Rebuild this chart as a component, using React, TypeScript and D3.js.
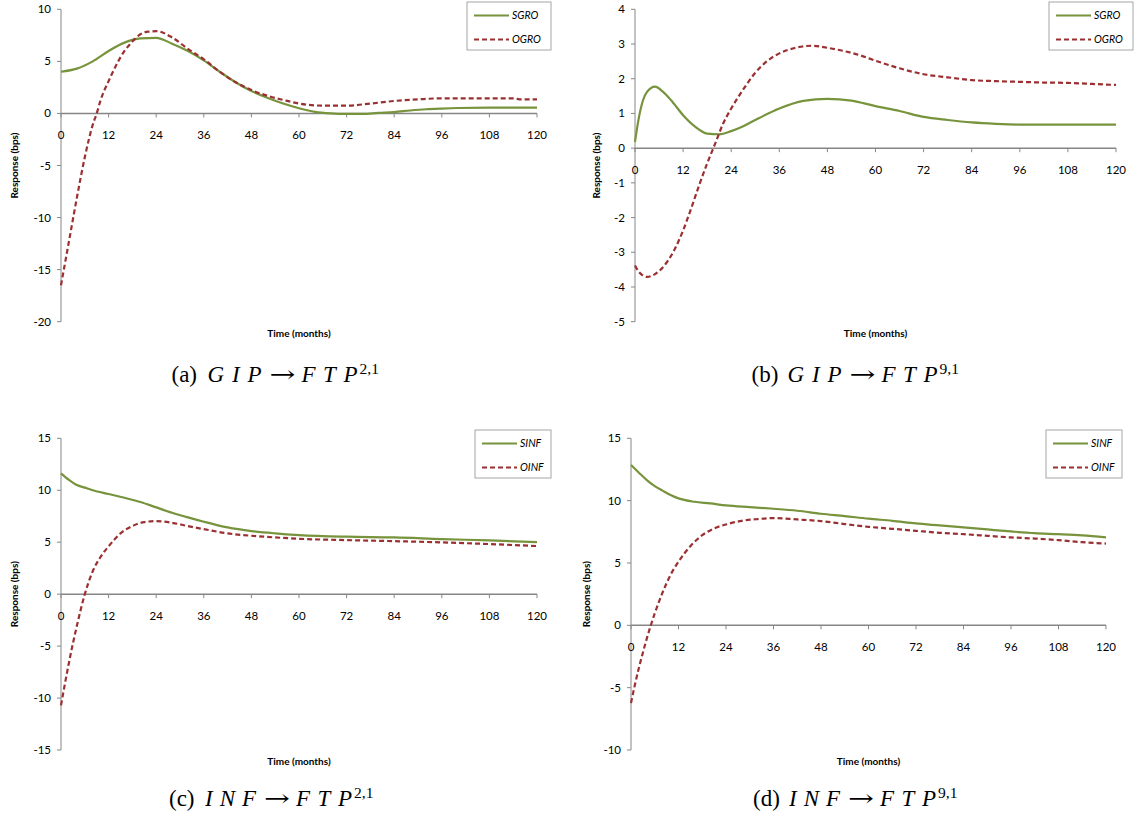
import React from "react";
import * as d3 from "d3";

// ---------- DATA ----------
const xTicks = [0, 12, 24, 36, 48, 60, 72, 84, 96, 108, 120];

// Panel (a) GIP -> FTP^{2,1}
const aSGROMonths = [0, 4, 8, 12, 16, 20, 24, 28, 32, 36, 40, 44, 48, 52, 56, 60, 64, 68, 72, 76, 80, 84, 88, 92, 96, 100, 108, 120];
const aSGRO = [4.0, 4.3, 5.0, 6.0, 6.8, 7.2, 7.25, 6.7, 6.0, 5.1, 4.0, 3.0, 2.15, 1.5, 0.95, 0.5, 0.15, 0.0, -0.05, -0.05, 0.05, 0.13, 0.28, 0.4, 0.47, 0.52, 0.55, 0.55];
const aOGROMonths = [0, 2, 4, 6, 8, 9, 10, 12, 14, 16, 18, 20, 22, 24, 28, 32, 36, 40, 44, 48, 52, 56, 60, 66, 72, 78, 84, 90, 96, 108, 114, 116, 120];
const aOGRO = [-16.5, -12.3, -8.1, -4.2, -1.1, 0, 1.3, 3.1, 4.7, 6.0, 6.9, 7.6, 7.85, 7.9, 7.3, 6.2, 5.2, 4.0, 3.0, 2.25, 1.7, 1.3, 0.95, 0.75, 0.75, 0.95, 1.2, 1.35, 1.45, 1.45, 1.45, 1.35, 1.35];

// Panel (b) GIP -> FTP^{9,1}
const bSGROMonths = [0, 1, 2, 3, 5, 7, 9, 12, 15, 18, 21, 24, 27, 30, 36, 42, 48, 54, 60, 66, 72, 78, 84, 90, 96, 120];
const bSGRO = [0.18, 0.9, 1.38, 1.62, 1.77, 1.62, 1.38, 0.95, 0.62, 0.42, 0.4, 0.49, 0.63, 0.81, 1.14, 1.36, 1.42, 1.37, 1.21, 1.07, 0.9, 0.81, 0.74, 0.7, 0.68, 0.68];
const bOGROMonths = [0, 1, 3, 5, 8, 10, 12, 14, 16, 18, 20, 22, 24, 27, 30, 33, 36, 40, 44, 48, 52, 56, 60, 66, 72, 78, 84, 90, 96, 102, 108, 114, 120];
const bOGRO = [-3.38, -3.57, -3.71, -3.63, -3.28, -2.89, -2.37, -1.74, -1.07, -0.44, 0.13, 0.71, 1.14, 1.69, 2.17, 2.51, 2.73, 2.89, 2.95, 2.89, 2.8, 2.68, 2.52, 2.3, 2.13, 2.04, 1.96, 1.93, 1.91, 1.89, 1.88, 1.85, 1.82];

// Panel (c) INF -> FTP^{2,1}
const cSINFMonths = [0, 2, 4, 6, 8, 12, 16, 20, 24, 28, 32, 36, 42, 48, 54, 60, 72, 84, 96, 108, 120];
const cSINF = [11.63, 11.0, 10.5, 10.25, 10.0, 9.64, 9.28, 8.87, 8.35, 7.84, 7.39, 6.97, 6.42, 6.07, 5.85, 5.69, 5.53, 5.46, 5.3, 5.17, 5.01];
const cOINFMonths = [0, 1, 2, 3, 4, 5, 6, 7, 8, 10, 12, 15, 18, 21, 24, 28, 32, 36, 42, 48, 54, 60, 72, 84, 96, 108, 120];
const cOINF = [-10.7, -8.6, -6.6, -4.75, -3.05, -1.45, 0, 1.2, 2.2, 3.6, 4.6, 5.85, 6.55, 6.94, 7.03, 6.87, 6.55, 6.26, 5.85, 5.62, 5.46, 5.33, 5.2, 5.1, 4.98, 4.82, 4.63];

// Panel (d) INF -> FTP^{9,1}
const dSINFMonths = [0, 2, 4, 6, 8, 10, 12, 16, 20, 24, 30, 36, 42, 48, 54, 60, 66, 72, 78, 84, 90, 96, 102, 108, 114, 120];
const dSINF = [12.86, 12.24, 11.65, 11.17, 10.8, 10.45, 10.18, 9.91, 9.78, 9.62, 9.48, 9.35, 9.19, 8.95, 8.76, 8.55, 8.38, 8.17, 8.01, 7.85, 7.69, 7.53, 7.39, 7.31, 7.21, 7.05];
const dOINFMonths = [0, 1, 2, 3, 4, 5, 6, 8, 10, 12, 15, 18, 21, 24, 28, 32, 36, 42, 48, 54, 60, 66, 72, 78, 84, 90, 96, 102, 108, 114, 120];
const dOINF = [-6.24, -4.75, -3.4, -2.2, -1.05, 0, 0.95, 2.65, 4.05, 5.1, 6.35, 7.23, 7.77, 8.09, 8.38, 8.52, 8.6, 8.49, 8.36, 8.12, 7.9, 7.74, 7.58, 7.42, 7.31, 7.18, 7.05, 6.96, 6.83, 6.67, 6.56];

const aYTicks = [10, 5, 0, -5, -10, -15, -20];
const bYTicks = [4, 3, 2, 1, 0, -1, -2, -3, -4, -5];
const cYTicks = [15, 10, 5, 0, -5, -10, -15];
const dYTicks = [15, 10, 5, 0, -5, -10];

const grosLabels = ["SGRO", "OGRO"];
const infLabels = ["SINF", "OINF"];

// ---------- LAYOUT / STYLE ----------
const GREEN = "#77933C";
const RED = "#9B3033";
const AXIS = "#868686";
const CHART_FONT = "Lato, 'Open Sans', sans-serif";
const SERIF = "'Liberation Serif', 'DejaVu Serif', serif";

type Series = { months: number[]; values: number[]; label: string; color: string; dashed: boolean };
type PanelCfg = {
  x0: number; x1: number; yTop: number; yBot: number;
  yDomain: [number, number]; yTicks: number[];
  yTitleX: number;
  legendX: number; legendY: number; legendW: number;
  series: Series[];
};

const panels: PanelCfg[] = [
  {
    x0: 61, x1: 537, yTop: 9.3, yBot: 321.7, yDomain: [-20, 10], yTicks: aYTicks, yTitleX: 14,
    legendX: 467, legendY: 2, legendW: 84,
    series: [
      { months: aSGROMonths, values: aSGRO, label: grosLabels[0], color: GREEN, dashed: false },
      { months: aOGROMonths, values: aOGRO, label: grosLabels[1], color: RED, dashed: true },
    ],
  },
  {
    x0: 635, x1: 1116, yTop: 9.3, yBot: 321.7, yDomain: [-5, 4], yTicks: bYTicks, yTitleX: 596,
    legendX: 1049, legendY: 2, legendW: 84,
    series: [
      { months: bSGROMonths, values: bSGRO, label: grosLabels[0], color: GREEN, dashed: false },
      { months: bOGROMonths, values: bOGRO, label: grosLabels[1], color: RED, dashed: true },
    ],
  },
  {
    x0: 61, x1: 537, yTop: 438.3, yBot: 750, yDomain: [-15, 15], yTicks: cYTicks, yTitleX: 14,
    legendX: 475, legendY: 430, legendW: 76,
    series: [
      { months: cSINFMonths, values: cSINF, label: infLabels[0], color: GREEN, dashed: false },
      { months: cOINFMonths, values: cOINF, label: infLabels[1], color: RED, dashed: true },
    ],
  },
  {
    x0: 631, x1: 1106, yTop: 438.3, yBot: 750, yDomain: [-10, 15], yTicks: dYTicks, yTitleX: 586,
    legendX: 1046, legendY: 430, legendW: 76,
    series: [
      { months: dSINFMonths, values: dSINF, label: infLabels[0], color: GREEN, dashed: false },
      { months: dOINFMonths, values: dOINF, label: infLabels[1], color: RED, dashed: true },
    ],
  },
];

const captions = [
  { cx: 276, y: 382, tag: "(a)", from: "GIP", fromW: 54, sup: "2,1" },
  { cx: 856, y: 382, tag: "(b)", from: "GIP", fromW: 54, sup: "9,1" },
  { cx: 272, y: 806, tag: "(c)", from: "INF", fromW: 51, sup: "2,1" },
  { cx: 856, y: 806, tag: "(d)", from: "INF", fromW: 51, sup: "9,1" },
];

function Caption({ c }: { c: (typeof captions)[number] }) {
  const fs = 23;
  const tagW = 26;
  const arrowW = 26;
  const ftpW = 56;
  const supW = 21;
  const total = tagW + 10 + c.fromW + 8 + arrowW + 6 + ftpW + 2 + supW;
  let x = c.cx - total / 2;
  const xTag = x;
  x += tagW + 10;
  const xFrom = x;
  x += c.fromW + 8;
  const xArrow = x;
  x += arrowW + 6;
  const xFtp = x;
  x += ftpW + 2;
  const xSup = x;
  const common = { fontFamily: SERIF, fill: "#000" } as const;
  return (
    <g>
      <text x={xTag} y={c.y} fontSize={fs} {...common}>
        {c.tag}
      </text>
      <text x={xFrom} y={c.y} fontSize={fs} fontStyle="italic" textLength={c.fromW} lengthAdjust="spacing" {...common}>
        {c.from}
      </text>
      <text x={xArrow} y={c.y} fontSize={fs} fontFamily="'DejaVu Serif', serif" textLength={arrowW} lengthAdjust="spacingAndGlyphs" fill="#000">
        →
      </text>
      <text x={xFtp} y={c.y} fontSize={fs} fontStyle="italic" textLength={ftpW} lengthAdjust="spacing" {...common}>
        FTP
      </text>
      <text x={xSup} y={c.y - 8.5} fontSize={15.5} {...common}>
        {c.sup}
      </text>
    </g>
  );
}

function Panel({ cfg }: { cfg: PanelCfg }) {
  const x = d3.scaleLinear().domain([0, 120]).range([cfg.x0, cfg.x1]);
  const y = d3.scaleLinear().domain(cfg.yDomain).range([cfg.yBot, cfg.yTop]);
  const zeroY = y(0);
  const line = d3
    .line<[number, number]>()
    .x((d) => x(d[0]))
    .y((d) => y(d[1]))
    .curve(d3.curveMonotoneX);
  const midX = (cfg.x0 + cfg.x1) / 2;
  const midY = (cfg.yTop + cfg.yBot) / 2;
  return (
    <g>
      {/* y axis */}
      <line x1={cfg.x0} x2={cfg.x0} y1={cfg.yTop} y2={cfg.yBot} stroke={AXIS} strokeWidth={1} />
      {cfg.yTicks.map((t) => (
        <g key={"y" + t}>
          <line x1={cfg.x0 - 4} x2={cfg.x0} y1={y(t)} y2={y(t)} stroke={AXIS} strokeWidth={1} />
          <text x={cfg.x0 - 10} y={y(t)} dy="0.35em" textAnchor="end" fontSize={11.5} fontFamily={CHART_FONT} fill="#000">
            {t}
          </text>
        </g>
      ))}
      {/* x axis at zero */}
      <line x1={cfg.x0} x2={cfg.x1} y1={zeroY} y2={zeroY} stroke={AXIS} strokeWidth={1.5} />
      {xTicks.map((t) => (
        <g key={"x" + t}>
          <line x1={x(t)} x2={x(t)} y1={zeroY} y2={zeroY + 4} stroke={AXIS} strokeWidth={1} />
          <text x={x(t)} y={zeroY + 22} dy="0.35em" textAnchor="middle" fontSize={11.5} fontFamily={CHART_FONT} fill="#000">
            {t}
          </text>
        </g>
      ))}
      {/* series */}
      {cfg.series.map((s) => (
        <path
          key={s.label}
          d={line(s.months.map((m, i) => [m, s.values[i]] as [number, number])) || ""}
          fill="none"
          stroke={s.color}
          strokeWidth={2.2}
          strokeDasharray={s.dashed ? "5,3" : undefined}
        />
      ))}
      {/* axis titles */}
      <text x={midX} y={cfg.yBot + 11.5} dy="0.35em" textAnchor="middle" fontSize={10} fontWeight="bold" fontFamily={CHART_FONT}>
        Time (months)
      </text>
      <text
        transform={`translate(${cfg.yTitleX},${midY}) rotate(-90)`}
        dy="0.35em"
        textAnchor="middle"
        fontSize={10}
        fontWeight="bold"
        fontFamily={CHART_FONT}
      >
        Response (bps)
      </text>
      {/* legend */}
      <rect x={cfg.legendX} y={cfg.legendY} width={cfg.legendW} height={48} fill="#fff" stroke="#A6A6A6" strokeWidth={1} />
      {cfg.series.map((s, i) => {
        const ly = cfg.legendY + 13.5 + i * 24;
        return (
          <g key={"lg" + s.label}>
            <line
              x1={cfg.legendX + 7}
              x2={cfg.legendX + 42}
              y1={ly}
              y2={ly}
              stroke={s.color}
              strokeWidth={2.2}
              strokeDasharray={s.dashed ? "5,3" : undefined}
            />
            <text x={cfg.legendX + 45} y={ly} dy="0.35em" fontSize={10.5} fontStyle="italic" fontFamily={CHART_FONT}>
              {s.label}
            </text>
          </g>
        );
      })}
    </g>
  );
}

export default function App() {
  return (
    <svg
      width={1135}
      height={823}
      viewBox="0 0 1135 823"
      style={{ position: "absolute", left: 0, top: 0, background: "#fff" }}
    >
      <rect x={0} y={0} width={1135} height={823} fill="#fff" />
      {panels.map((p, i) => (
        <Panel key={i} cfg={p} />
      ))}
      {captions.map((c) => (
        <Caption key={c.tag} c={c} />
      ))}
    </svg>
  );
}
